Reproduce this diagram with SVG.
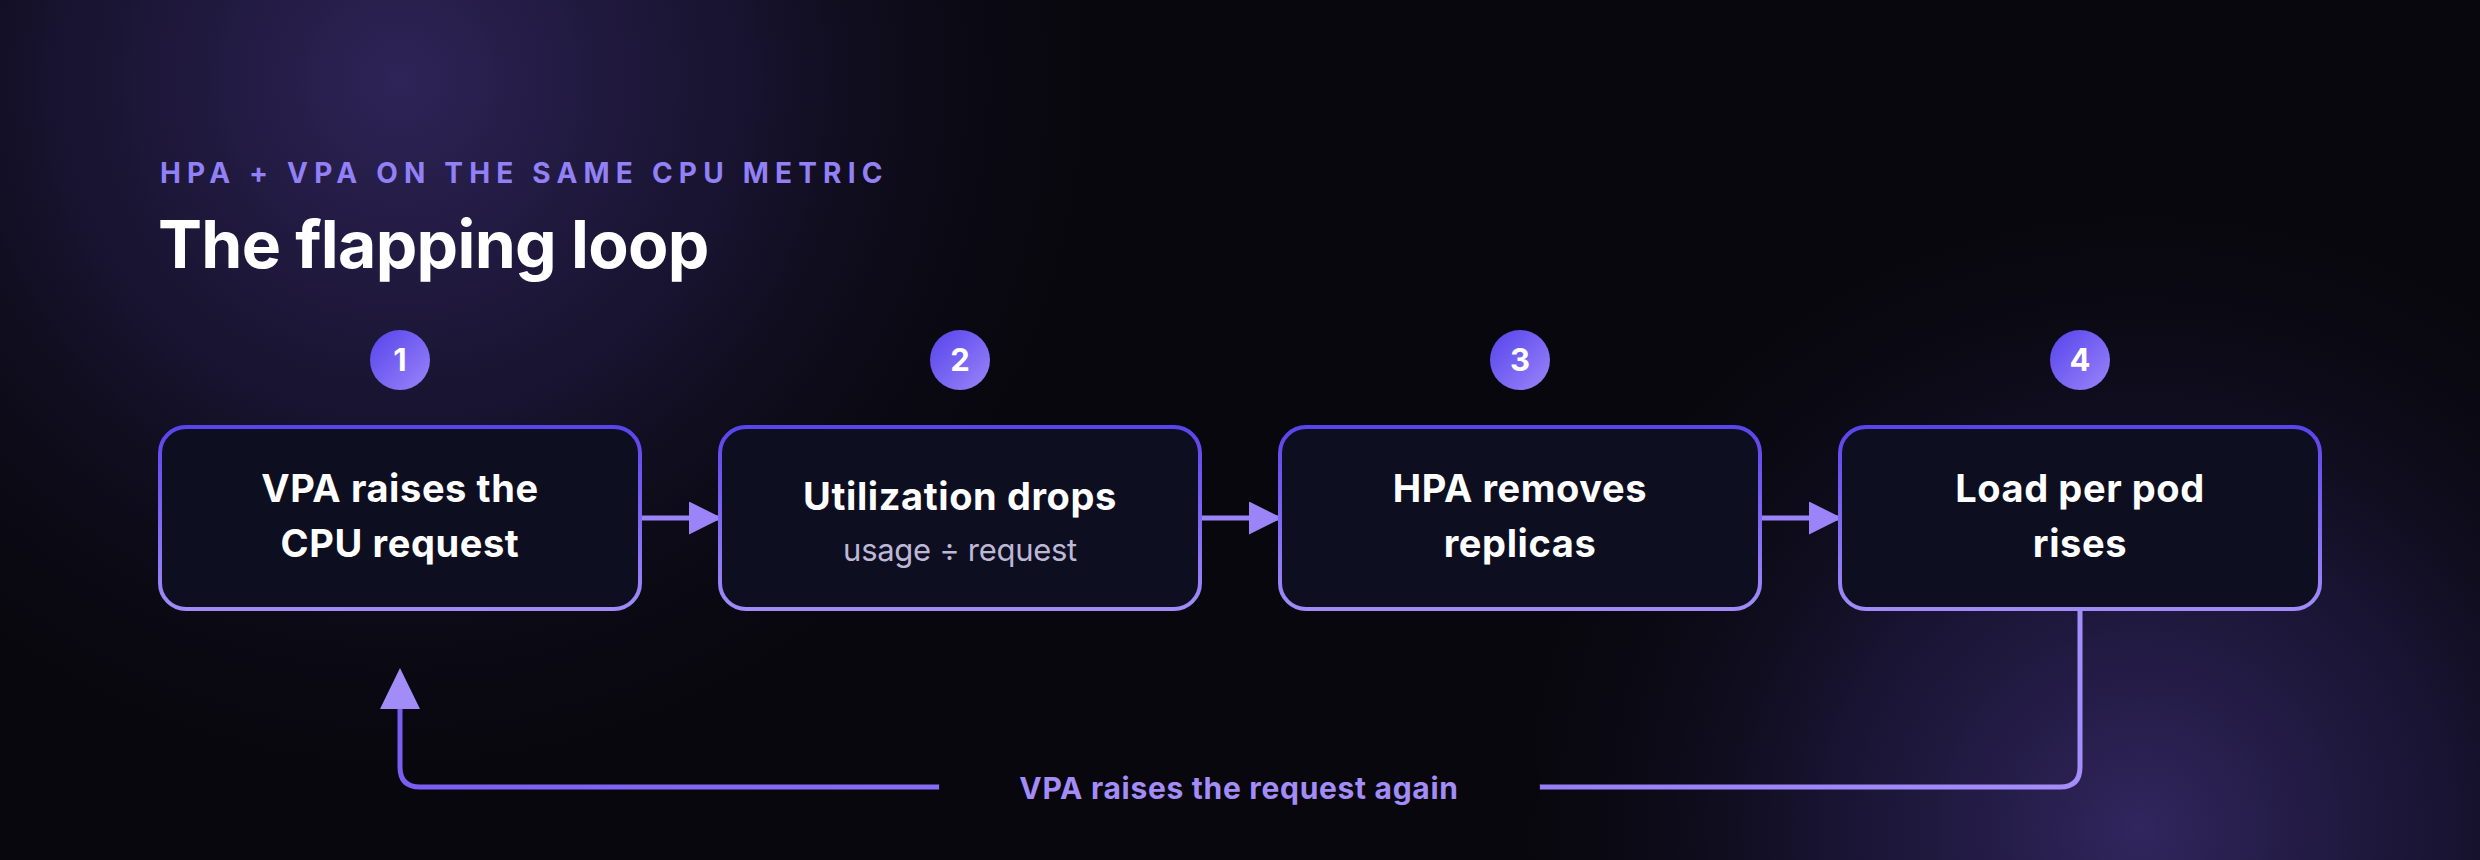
<svg xmlns="http://www.w3.org/2000/svg" width="2480" height="860" viewBox="0 0 2480 860">
  <defs>
    <radialGradient id="glowTL" cx="400" cy="80" r="760" gradientUnits="userSpaceOnUse">
      <stop offset="0" stop-color="#2e2458" stop-opacity="1"/>
      <stop offset="0.45" stop-color="#1c1638" stop-opacity="0.8"/>
      <stop offset="1" stop-color="#08070d" stop-opacity="0"/>
    </radialGradient>
    <radialGradient id="glowBR" cx="2140" cy="830" r="680" gradientUnits="userSpaceOnUse">
      <stop offset="0" stop-color="#31265e" stop-opacity="1"/>
      <stop offset="0.45" stop-color="#1d173c" stop-opacity="0.8"/>
      <stop offset="1" stop-color="#08070d" stop-opacity="0"/>
    </radialGradient>
    <linearGradient id="boxStroke" x1="0" y1="0" x2="0" y2="1">
      <stop offset="0" stop-color="#5a44ec"/>
      <stop offset="1" stop-color="#a08bf8"/>
    </linearGradient>
    <linearGradient id="badge" x1="0" y1="0" x2="1" y2="1">
      <stop offset="0" stop-color="#5643ec"/>
      <stop offset="1" stop-color="#9a85f8"/>
    </linearGradient>
    <linearGradient id="loopStroke" x1="400" y1="0" x2="2080" y2="0" gradientUnits="userSpaceOnUse">
      <stop offset="0" stop-color="#7a5ef2"/>
      <stop offset="1" stop-color="#a48ef9"/>
    </linearGradient>
    <marker id="arrowHead" viewBox="0 0 10 10" refX="10" refY="5" markerWidth="7" markerHeight="6.6" markerUnits="strokeWidth" orient="auto">
      <path d="M0,0 L10,5 L0,10 Z" fill="#9b84f7"/>
    </marker>
  </defs>
  <style>
    .box { fill: #0e0e21; stroke: url(#boxStroke); stroke-width: 4; }
    .badge { fill: url(#badge); }
    .num { font-family: Inter, "Liberation Sans", sans-serif; font-weight: 700; font-size: 31px; fill: #ffffff; text-anchor: middle; }
    .label { font-family: Inter, "Liberation Sans", sans-serif; font-weight: 700; font-size: 38px; fill: #ffffff; text-anchor: middle; letter-spacing: 0.6px; }
    .sub { font-family: Inter, "Liberation Sans", sans-serif; font-weight: 400; font-size: 31px; fill: #bdb8d6; text-anchor: middle; letter-spacing: -0.3px; }
    .conn { fill: none; stroke: #9b84f7; stroke-width: 5; }
  </style>

  <rect x="0" y="0" width="2480" height="860" fill="#08070d"/>
  <rect x="0" y="0" width="2480" height="860" fill="url(#glowTL)"/>
  <rect x="0" y="0" width="2480" height="860" fill="url(#glowBR)"/>

  <g id="header">
    <text x="160" y="183" font-family="Inter, 'Liberation Sans', sans-serif" font-weight="700" font-size="28" letter-spacing="6.2" fill="#9280f6">HPA + VPA ON THE SAME CPU METRIC</text>
    <text x="158" y="268" font-family="Inter, 'Liberation Sans', sans-serif" font-weight="700" font-size="66" letter-spacing="-0.7" fill="#ffffff">The flapping loop</text>
  </g>

  <g id="connectors">
    <line class="conn" x1="642" y1="518" x2="722" y2="518" marker-end="url(#arrowHead)"/>
    <line class="conn" x1="1202" y1="518" x2="1282" y2="518" marker-end="url(#arrowHead)"/>
    <line class="conn" x1="1762" y1="518" x2="1842" y2="518" marker-end="url(#arrowHead)"/>
    <path d="M2080,609 L2080,767 Q2080,787 2060,787 L420,787 Q400,787 400,767 L400,706" fill="none" stroke="url(#loopStroke)" stroke-width="5"/>
    <polygon points="380,709 420,709 400,668" fill="#a28cf8"/>
    <g id="loop-label">
      <rect x="939" y="753" width="601" height="68" rx="34" fill="#08070d"/>
      <text x="1239" y="799" font-family="Inter, 'Liberation Sans', sans-serif" font-weight="700" font-size="30" letter-spacing="0.7" fill="#a48cf8" text-anchor="middle">VPA raises the request again</text>
    </g>
  </g>

  <g id="step1">
    <circle class="badge" cx="400" cy="360" r="30"/>
    <text class="num" x="400" y="371">1</text>
    <rect class="box" x="160" y="427" width="480" height="182" rx="26"/>
    <text class="label" x="400" y="502">VPA raises the</text>
    <text class="label" x="400" y="557">CPU request</text>
  </g>

  <g id="step2">
    <circle class="badge" cx="960" cy="360" r="30"/>
    <text class="num" x="960" y="371">2</text>
    <rect class="box" x="720" y="427" width="480" height="182" rx="26"/>
    <text class="label" x="960" y="510">Utilization drops</text>
    <text class="sub" x="960" y="561">usage ÷ request</text>
  </g>

  <g id="step3">
    <circle class="badge" cx="1520" cy="360" r="30"/>
    <text class="num" x="1520" y="371">3</text>
    <rect class="box" x="1280" y="427" width="480" height="182" rx="26"/>
    <text class="label" x="1520" y="502">HPA removes</text>
    <text class="label" x="1520" y="557">replicas</text>
  </g>

  <g id="step4">
    <circle class="badge" cx="2080" cy="360" r="30"/>
    <text class="num" x="2080" y="371">4</text>
    <rect class="box" x="1840" y="427" width="480" height="182" rx="26"/>
    <text class="label" x="2080" y="502">Load per pod</text>
    <text class="label" x="2080" y="557">rises</text>
  </g>
</svg>
